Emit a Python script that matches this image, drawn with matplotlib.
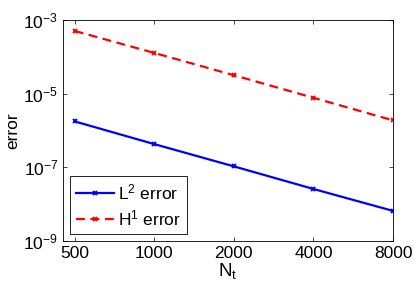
import matplotlib.pyplot as plt
import numpy as np

plt.rcParams['font.family'] = ['Liberation Sans', 'DejaVu Sans']
plt.rcParams['mathtext.fontset'] = 'custom'
plt.rcParams['mathtext.rm'] = 'Liberation Sans'
plt.rcParams['mathtext.it'] = 'Liberation Sans'

# data
Nt = [500, 1000, 2000, 4000, 8000]
err_L2 = [1.78e-6, 4.3e-7, 1.07e-7, 2.6e-8, 6.6e-9]
err_H1 = [5.1e-4, 1.29e-4, 3.2e-5, 7.8e-6, 1.9e-6]
xtick_labels = ['500', '1000', '2000', '4000', '8000']
ytick_vals = [1e-9, 1e-7, 1e-5, 1e-3]

fig = plt.figure(figsize=(4.15, 2.88), dpi=100)
ax = fig.add_axes([0.152, 0.163, 0.795, 0.767])

ax.loglog(Nt, err_L2, color='blue', linestyle='-', marker='x', markersize=3.2,
          markeredgewidth=1.4, linewidth=1.6, label='L$^2$ error')
ax.loglog(Nt, err_H1, color='red', linestyle='--', marker='x', markersize=3.2,
          markeredgewidth=1.4, linewidth=1.6, dashes=(4, 2.5), label='H$^1$ error')

ax.set_xlim(452, 8000)
ax.set_ylim(1e-9, 1e-3)
ax.set_xticks(Nt)
ax.set_xticklabels(xtick_labels)
ax.xaxis.set_minor_locator(plt.NullLocator())
ax.set_yticks(ytick_vals)
ax.yaxis.set_minor_locator(plt.NullLocator())
ax.tick_params(direction='in', top=True, right=True, labelsize=12.5, length=3,
               width=0.5)
for s in ax.spines.values():
    s.set_linewidth(0.6)

ax.set_xlabel('N$_\\mathrm{t}$', fontsize=13.5, labelpad=0)
ax.set_ylabel('error', fontsize=12.5, labelpad=2)

leg = ax.legend(loc='lower left', fontsize=12.5, fancybox=False, framealpha=1,
                edgecolor='black', borderaxespad=0.4, handlelength=2.2,
                handletextpad=0.2, borderpad=0.35, labelspacing=0.35)
leg.get_frame().set_linewidth(0.6)

fig.savefig('out.png', dpi=100)
